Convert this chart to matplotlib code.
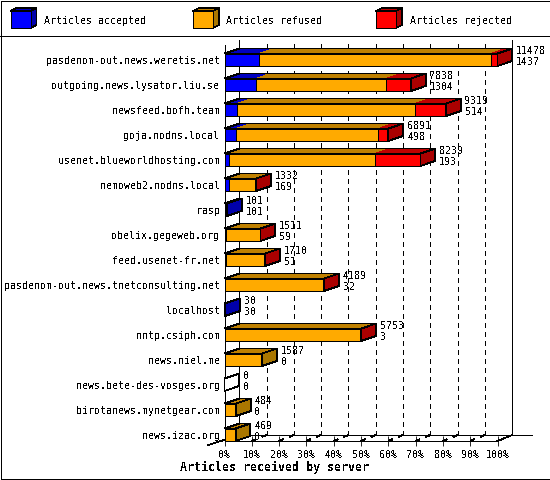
"""Stacked pseudo-3D bars of articles received by server."""

import matplotlib

matplotlib.use("Agg")
import matplotlib.pyplot as plt
from matplotlib.patches import Polygon, Rectangle

servers = [
    "pasdenom-out.news.weretis.net", "outgoing.news.lysator.liu.se",
    "newsfeed.bofh.team", "goja.nodns.local", "usenet.blueworldhosting.com",
    "nemoweb2.nodns.local", "rasp", "obelix.gegeweb.org", "feed.usenet-fr.net",
    "pasdenom-out.news.tnetconsulting.net", "localhost", "nntp.csiph.com",
    "news.niel.me", "news.bete-des-vosges.org", "birotanews.mynetgear.com",
    "news.izac.org",
]
offered = [11478, 7838, 9319, 6891, 8239, 1332, 101, 1511, 1710, 4189, 30, 5753, 1587, 0, 484, 469]
accepted = [1437, 1304, 514, 498, 193, 169, 101, 59, 51, 32, 30, 3, 0, 0, 0, 0]
refused = [9747, 5469, 7488, 5973, 6139, 1133, 0, 1442, 1650, 4152, 0, 5740, 1587, 0, 484, 469]
rejected = [294, 1065, 1317, 420, 1907, 30, 0, 10, 9, 5, 0, 10, 0, 0, 0, 0]
x_ticks = [0, 10, 20, 30, 40, 50, 60, 70, 80, 90, 100]
legend_names = ["Articles accepted", "Articles refused", "Articles rejected"]

FRONT = ["#0000ff", "#ffaa00", "#ff0000"]
TOP = ["#0000bf", "#bf8000", "#bf0000"]
SIDE = ["#0000aa", "#aa7700", "#aa0000"]

PX_PER_PCT = 2.73
PX_PER_ROW = 25.0
DX = 14.7 / PX_PER_PCT
DY = 5.0 / PX_PER_ROW
HALF = 0.25
LW = 0.6

plt.rcParams["font.family"] = ["DejaVu Sans Mono", "Liberation Mono"]
plt.rcParams["font.size"] = 7.2
plt.rcParams["text.antialiased"] = False

fig = plt.figure(figsize=(5.5, 4.8), dpi=100)

# pixel-space layer for the frame and the legend
page = fig.add_axes([0, 0, 1, 1], zorder=0)
page.set_xlim(0, 550)
page.set_ylim(480, 0)
page.axis("off")
page.plot([0.5, 549.5, 549.5, 0.5, 0.5], [0.5, 0.5, 478.5, 478.5, 0.5],
          color="black", lw=LW, aa=False, clip_on=False)
page.plot([0, 550], [35.5, 35.5], color="black", lw=LW, aa=False)


def cube(x, color):
    page.add_patch(Polygon([(x, 11), (x + 6, 8), (x + 26, 8), (x + 20, 11)],
                           fc=color[1], ec="black", lw=LW, aa=False))
    page.add_patch(Polygon([(x + 20, 11), (x + 26, 8), (x + 26, 25), (x + 20, 28)],
                           fc=color[2], ec="black", lw=LW, aa=False))
    page.add_patch(Rectangle((x, 11), 20, 17, fc=color[0], ec="black", lw=LW, aa=False))


for i, (lx, name) in enumerate(zip([10.5, 193, 376], legend_names)):
    cube(lx, (FRONT[i], TOP[i], SIDE[i]))
    page.text(lx + 33.5, 20.5, name, va="center", ha="left")

page.text(274, 467, "Articles received by server", ha="center", va="center",
          fontweight="bold", fontsize=8.4)

# chart axes: x is percent of the biggest server, y is the row number
ax = fig.add_axes([224.5 / 550, (480 - 441) / 480, 273 / 550, 396 / 480], zorder=1)
ax.patch.set_alpha(0)
ax.set_xlim(0, 100)
ax.set_ylim(15.25, 15.25 - 396 / PX_PER_ROW)
for name in ("top", "right"):
    ax.spines[name].set_visible(False)
for name in ("left", "bottom"):
    ax.spines[name].set_linewidth(LW)
    ax.spines[name].set_antialiased(False)
ax.set_yticks(range(len(servers)), servers)
ax.tick_params(axis="y", length=0, pad=3.4)
ax.set_xticks(x_ticks, [f"{t}%" for t in x_ticks])
ax.tick_params(axis="x", direction="inout", length=7, width=LW, pad=2.7)

# floor and back wall
y_floor = 15.25
y_back = y_floor - 6.0 / PX_PER_ROW
y_top = y_floor - 401 / PX_PER_ROW
line = dict(color="black", lw=LW, aa=False, zorder=1, clip_on=False)
ax.plot([DX, DX], [y_back, y_top], **line)
ax.plot([100 + DX, 100 + DX], [y_back, y_top], **line)
ax.plot([DX, 112.5], [y_back, y_back], **line)
ax.plot([-5.9, DX], [y_floor + 0.16, y_back], **line)
ax.plot([100, 100 + DX], [y_floor, y_back], **line)
for t in x_ticks[1:-1]:
    ax.plot([t + DX, t + DX], [y_back, y_top], ls=(0, (6, 6)), **line)
    ax.plot([t, t + DX], [y_floor, y_back], ls=(0, (6, 8)), **line)

to_pct = 100.0 / offered[0]
for row in range(len(servers)):
    z = 3 + row
    total = offered[row] * to_pct
    y0, y1 = row - HALF, row + HALF
    start = 0.0
    last_color = None
    for k, counts in enumerate((accepted, refused, rejected)):
        width = counts[row] * to_pct
        if counts[row] == 0:
            continue
        end = start + width
        ax.add_patch(Polygon([(start, y0), (end, y0), (end + DX, y0 - DY), (start + DX, y0 - DY)],
                             fc=TOP[k], ec="none", aa=False, zorder=z, clip_on=False))
        ax.add_patch(Rectangle((start, y0), width, y1 - y0, fc=FRONT[k], ec="black", lw=LW,
                               aa=False, zorder=z + 0.2, clip_on=False))
        last_color = k
        start = end
    side = SIDE[last_color] if last_color is not None else "white"
    ax.add_patch(Polygon([(total, y0), (total + DX, y0 - DY), (total + DX, y1 - DY), (total, y1)],
                         fc=side, ec="black", lw=LW, aa=False, zorder=z + 0.3, clip_on=False))
    ax.add_patch(Polygon([(0, y0), (DX, y0 - DY), (total + DX, y0 - DY), (total, y0)],
                         fc="none", ec="black", lw=LW, aa=False, zorder=z + 0.4, clip_on=False))
    ax.annotate(str(offered[row]), (total + DX, row), xytext=(4, 9), textcoords="offset pixels",
                va="center", ha="left", zorder=30, annotation_clip=False)
    ax.annotate(str(accepted[row]), (total + DX, row), xytext=(4, -2), textcoords="offset pixels",
                va="center", ha="left", zorder=30, annotation_clip=False)

fig.savefig("out.png", dpi=100)
plt.close(fig)
